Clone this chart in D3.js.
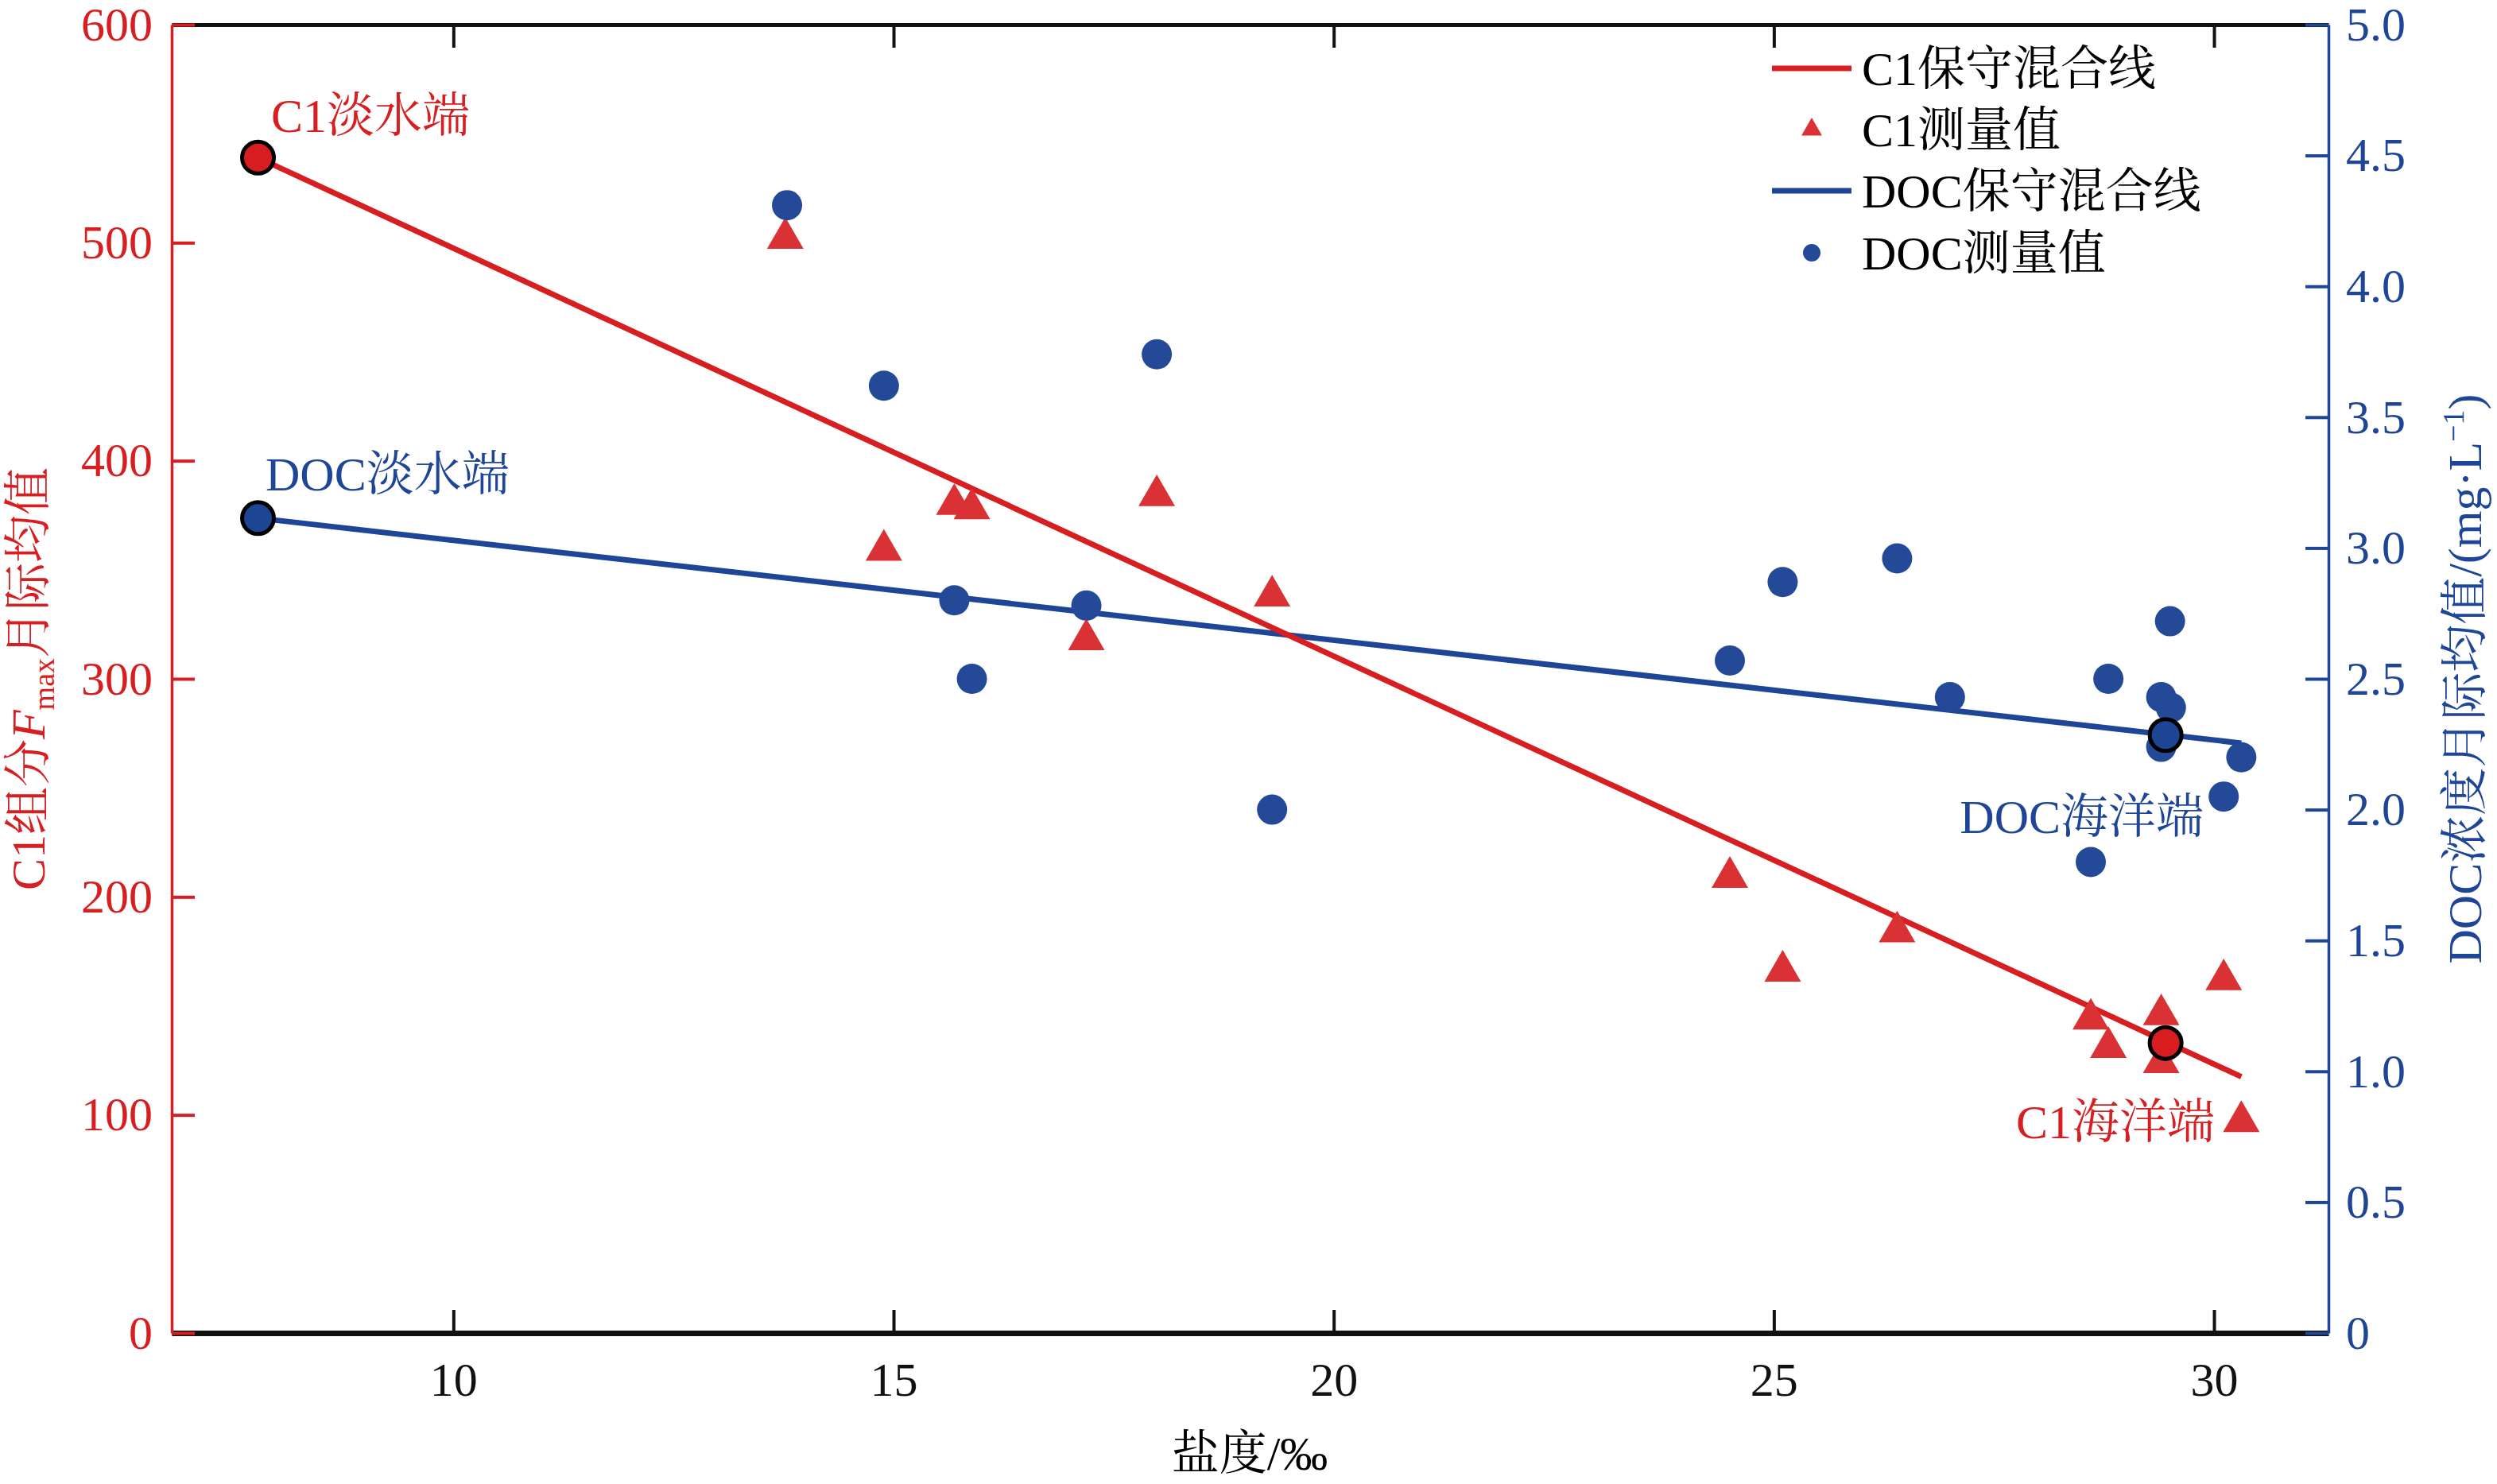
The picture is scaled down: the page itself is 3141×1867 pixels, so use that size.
<!DOCTYPE html>
<html>
<head>
<meta charset="utf-8">
<script src="https://cdn.jsdelivr.net/npm/d3@7"></script>
<style>
  body { margin: 0; background: #fff; }
  svg { display: block; }
  text { font-family: "Liberation Serif", "Times New Roman", "Noto Serif CJK SC", "Noto Sans CJK SC", serif; }
</style>
</head>
<body>
<svg id="chart" width="3141" height="1867"></svg>
<script>
// measured C1 (Fmax) values against salinity
var c1Sal = [13.77, 14.89, 15.69, 15.89, 17.19, 17.99, 19.30, 24.50, 25.10, 26.40, 28.60, 28.80, 29.40, 29.40, 30.11, 30.31];
var c1Val = [502, 359, 380, 378, 318, 384, 338, 209, 166, 184, 144, 131, 146, 124, 162, 97];

// measured DOC (mg/L) values against salinity
var docSal = [13.79, 14.89, 15.69, 15.89, 17.19, 17.99, 19.30, 24.50, 25.10, 26.40, 27.00, 28.60, 28.80, 29.40, 29.51, 29.40, 29.50, 30.11, 30.31];
var docVal = [4.31, 3.62, 2.80, 2.50, 2.78, 3.74, 2.00, 2.57, 2.87, 2.96, 2.43, 1.80, 2.50, 2.43, 2.39, 2.24, 2.72, 2.05, 2.20];

// end members (fresh, ocean)
var endSal = [7.78, 29.45];
var endC1 = [539, 133];
var endDoc = [3.114, 2.285];
var endC1Labels = ['C1淡水端', 'C1海洋端'];
var endDocLabels = ['DOC淡水端', 'DOC海洋端'];

// conservative mixing lines
var lineSal = [7.78, 30.31];
var lineC1 = [539, 117.5];
var lineDoc = [3.114, 2.254];

var xTicks = [10, 15, 20, 25, 30];
var yLeftTicks = [0, 100, 200, 300, 400, 500, 600];
var yRightTicks = [0, 0.5, 1.0, 1.5, 2.0, 2.5, 3.0, 3.5, 4.0, 4.5, 5.0];

var legendLabels = ['C1保守混合线', 'C1测量值', 'DOC保守混合线', 'DOC测量值'];

var RED = '#d71e20', RED_PT = '#da3234', BLUE = '#1e4597', BLUE_PT = '#244a97';

var svg = d3.select('#chart'),
    width = +svg.attr('width'),
    height = +svg.attr('height');

var pLeft = 216, pRight = 2929, pTop = 31, pBottom = 1677;

var x = d3.scaleLinear().domain([6.8, 31.3]).range([pLeft, pRight]);
var yL = d3.scaleLinear().domain([0, 600]).range([pBottom, pTop]);
var yR = d3.scaleLinear().domain([0, 5]).range([pBottom, pTop]);

function styleAxis(g, color, lineW, size) {
    g.attr('font-family', null).attr('font-size', null);
    g.select('.domain').attr('stroke', color).attr('stroke-width', lineW);
    g.selectAll('.tick line').attr('stroke', color).attr('stroke-width', 4);
    g.selectAll('.tick text').attr('fill', color).style('font-size', size + 'px');
}

// top axis (no labels)
svg.append('g')
    .attr('transform', 'translate(0,' + pTop + ')')
    .call(d3.axisTop(x).tickValues(xTicks).tickSize(-29).tickSizeOuter(0).tickFormat(''))
    .call(styleAxis, '#111', 5, 60);

// bottom axis
svg.append('g')
    .attr('transform', 'translate(0,' + pBottom + ')')
    .call(d3.axisBottom(x).tickValues(xTicks).tickSize(-29).tickSizeOuter(0).tickPadding(36))
    .call(styleAxis, '#111', 7, 60);

// left axis
svg.append('g')
    .attr('transform', 'translate(' + pLeft + ',0)')
    .call(d3.axisLeft(yL).tickValues(yLeftTicks).tickSize(-29).tickSizeOuter(0).tickPadding(24))
    .call(styleAxis, RED, 3.5, 60);

// right axis
svg.append('g')
    .attr('transform', 'translate(' + pRight + ',0)')
    .call(d3.axisRight(yR).tickValues(yRightTicks).tickSize(-29).tickSizeOuter(0).tickPadding(22)
        .tickFormat(function(d) { return d === 0 ? '0' : d3.format('.1f')(d); }))
    .call(styleAxis, BLUE, 3.5, 60);

// mixing lines
var c1Line = d3.line().x(function(d, i) { return x(lineSal[i]); }).y(function(d) { return yL(d); });
var docLine = d3.line().x(function(d, i) { return x(lineSal[i]); }).y(function(d) { return yR(d); });

svg.append('path').datum(lineDoc)
    .attr('d', docLine).attr('fill', 'none').attr('stroke', BLUE).attr('stroke-width', 7);
svg.append('path').datum(lineC1)
    .attr('d', c1Line).attr('fill', 'none').attr('stroke', RED).attr('stroke-width', 7);

// measured points
var tri = d3.symbol().type(d3.symbolTriangle).size(916);
svg.append('g').selectAll('path')
    .data(c1Val)
    .enter().append('path')
        .attr('d', tri)
        .attr('transform', function(d, i) { return 'translate(' + x(c1Sal[i]) + ',' + yL(d) + ')'; })
        .attr('fill', RED_PT);

svg.append('g').selectAll('circle')
    .data(docVal)
    .enter().append('circle')
        .attr('cx', function(d, i) { return x(docSal[i]); })
        .attr('cy', function(d) { return yR(d); })
        .attr('r', 19)
        .attr('fill', BLUE_PT);

// end members
svg.append('g').selectAll('circle')
    .data(endDoc)
    .enter().append('circle')
        .attr('cx', function(d, i) { return x(endSal[i]); })
        .attr('cy', function(d) { return yR(d); })
        .attr('r', 20)
        .attr('fill', '#1c4594')
        .attr('stroke', '#000').attr('stroke-width', 5);

svg.append('g').selectAll('circle')
    .data(endC1)
    .enter().append('circle')
        .attr('cx', function(d, i) { return x(endSal[i]); })
        .attr('cy', function(d) { return yL(d); })
        .attr('r', 20)
        .attr('fill', '#d81d20')
        .attr('stroke', '#000').attr('stroke-width', 5);

// end member labels
svg.append('text').attr('x', 341).attr('y', 166).attr('fill', RED)
    .style('font-size', '60px').text(endC1Labels[0]);
svg.append('text').attr('x', 2786).attr('y', 1432).attr('fill', RED)
    .attr('text-anchor', 'end').style('font-size', '60px').text(endC1Labels[1]);
svg.append('text').attr('x', 334).attr('y', 617).attr('fill', BLUE)
    .style('font-size', '60px').text(endDocLabels[0]);
svg.append('text').attr('x', 2772).attr('y', 1048).attr('fill', BLUE)
    .attr('text-anchor', 'end').style('font-size', '60px').text(endDocLabels[1]);

// legend
var legY = [86, 163, 240, 318];
var leg = svg.append('g');
leg.append('line').attr('x1', 2229).attr('x2', 2329).attr('y1', legY[0]).attr('y2', legY[0])
    .attr('stroke', RED).attr('stroke-width', 7);
leg.append('path').attr('d', d3.symbol().type(d3.symbolTriangle).size(290))
    .attr('transform', 'translate(2279,' + legY[1] + ')').attr('fill', RED_PT);
leg.append('line').attr('x1', 2229).attr('x2', 2329).attr('y1', legY[2]).attr('y2', legY[2])
    .attr('stroke', BLUE).attr('stroke-width', 7);
leg.append('circle').attr('cx', 2279).attr('cy', legY[3]).attr('r', 11).attr('fill', BLUE_PT);
leg.selectAll('text')
    .data(legendLabels)
    .enter().append('text')
        .attr('x', 2342)
        .attr('y', function(d, i) { return legY[i] + 21; })
        .attr('fill', '#000')
        .style('font-size', '60px')
        .text(function(d) { return d; });

// axis titles
svg.append('text')
    .attr('text-anchor', 'middle')
    .attr('x', 1572).attr('y', 1849)
    .style('font-size', '60px')
    .text('盐度/‰');

var lt = svg.append('text')
    .attr('transform', 'translate(56,854) rotate(-90)')
    .attr('text-anchor', 'middle')
    .attr('fill', RED)
    .style('font-size', '60px');
lt.append('tspan').text('C1组分');
lt.append('tspan').style('font-style', 'italic').text('F');
lt.append('tspan').attr('dy', 12).style('font-size', '38px').text('max');
lt.append('tspan').attr('dy', -12).text('月际均值');

var rt = svg.append('text')
    .attr('transform', 'translate(3121,854) rotate(-90)')
    .attr('text-anchor', 'middle')
    .attr('fill', BLUE)
    .style('font-size', '60px');
rt.append('tspan').text('DOC浓度月际均值/(mg·L');
rt.append('tspan').attr('dy', -22).style('font-size', '38px').text('−1');
rt.append('tspan').attr('dy', 22).text(')');
</script>
</body>
</html>
